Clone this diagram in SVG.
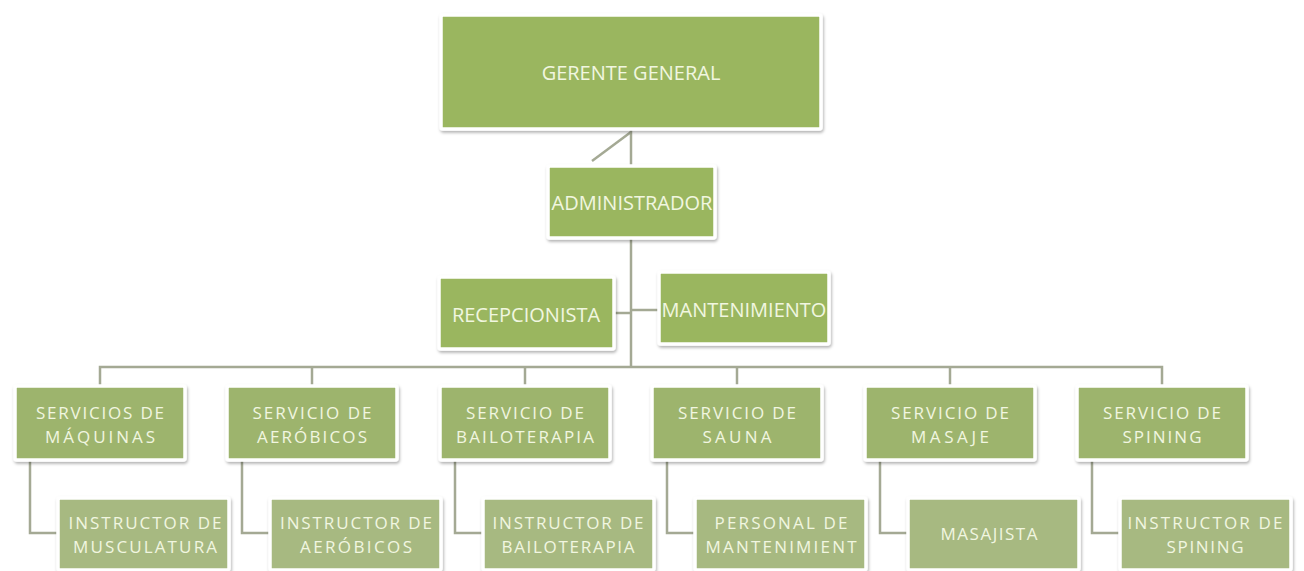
<svg xmlns="http://www.w3.org/2000/svg" width="1304" height="571" viewBox="0 0 1304 571">
  <defs>
    <filter id="sh" x="-10%" y="-10%" width="120%" height="130%">
      <feDropShadow dx="1" dy="2" stdDeviation="1.5" flood-color="#000" flood-opacity="0.3"/>
    </filter>
    <style>
      .box { stroke: #ffffff; stroke-width: 3.5; filter: url(#sh); }
      .l1 { fill: #9ab65e; }
      .l2 { fill: #9db46d; }
      .l3 { fill: #a7b981; }
      .t { font-family: "Open Sans", "Liberation Sans", sans-serif; font-size: 20px; fill: #f1f6e0; text-anchor: middle; }
      .s { font-size: 17px; }
      .c { fill: none; stroke: #a4a994; stroke-width: 2.5; }
    </style>
  </defs>
  <rect width="1304" height="571" fill="#ffffff"/>

  <g id="connectors">
    <line class="c" x1="631" y1="130" x2="631" y2="166"/>
    <line class="c" x1="631" y1="132" x2="592" y2="161"/>
    <line class="c" x1="631" y1="238" x2="631" y2="367"/>
    <line class="c" x1="614" y1="313" x2="631" y2="313"/>
    <line class="c" x1="631" y1="310" x2="659" y2="310"/>
    <path class="c" d="M100 386 V367 H1162 V386"/>
    <line class="c" x1="312" y1="367" x2="312" y2="386"/>
    <line class="c" x1="525" y1="367" x2="525" y2="386"/>
    <line class="c" x1="737" y1="367" x2="737" y2="386"/>
    <line class="c" x1="950" y1="367" x2="950" y2="386"/>
    <path class="c" d="M30 461 V533 H58"/>
    <path class="c" d="M242 461 V533 H270"/>
    <path class="c" d="M455 461 V533 H483"/>
    <path class="c" d="M667 461 V533 H695"/>
    <path class="c" d="M880 461 V533 H908"/>
    <path class="c" d="M1092 461 V533 H1120"/>
  </g>

  <g id="gerente">
    <rect class="box l1" x="441" y="15" width="380" height="114" rx="2"/>
    <text class="t" x="631" y="80">GERENTE GENERAL</text>
  </g>
  <g id="administrador">
    <rect class="box l1" x="548" y="166" width="167" height="72" rx="2"/>
    <text class="t" x="632" y="210">ADMINISTRADOR</text>
  </g>
  <g id="recepcionista">
    <rect class="box l1" x="439" y="277" width="175" height="72" rx="2"/>
    <text class="t" x="526" y="322">RECEPCIONISTA</text>
  </g>
  <g id="mantenimiento">
    <rect class="box l1" x="659" y="272" width="170" height="72" rx="2"/>
    <text class="t" x="744" y="317">MANTENIMIENTO</text>
  </g>

  <g id="serv-maquinas">
    <rect class="box l2" x="15" y="386" width="170" height="74" rx="2"/>
    <text class="t s" x="100" y="419" textLength="128">SERVICIOS DE</text>
    <text class="t s" x="100" y="443" textLength="110">MÁQUINAS</text>
  </g>
  <g id="serv-aerobicos">
    <rect class="box l2" x="227" y="386" width="170" height="74" rx="2"/>
    <text class="t s" x="312" y="419" textLength="119">SERVICIO DE</text>
    <text class="t s" x="312" y="443" textLength="110">AERÓBICOS</text>
  </g>
  <g id="serv-bailoterapia">
    <rect class="box l2" x="440" y="386" width="170" height="74" rx="2"/>
    <text class="t s" x="525" y="419" textLength="118">SERVICIO DE</text>
    <text class="t s" x="525" y="443" textLength="138">BAILOTERAPIA</text>
  </g>
  <g id="serv-sauna">
    <rect class="box l2" x="652" y="386" width="170" height="74" rx="2"/>
    <text class="t s" x="737" y="419" textLength="118">SERVICIO DE</text>
    <text class="t s" x="737" y="443" textLength="69">SAUNA</text>
  </g>
  <g id="serv-masaje">
    <rect class="box l2" x="865" y="386" width="170" height="74" rx="2"/>
    <text class="t s" x="950" y="419" textLength="118">SERVICIO DE</text>
    <text class="t s" x="950" y="443" textLength="78">MASAJE</text>
  </g>
  <g id="serv-spining">
    <rect class="box l2" x="1077" y="386" width="170" height="74" rx="2"/>
    <text class="t s" x="1162" y="419" textLength="118">SERVICIO DE</text>
    <text class="t s" x="1162" y="443" textLength="79">SPINING</text>
  </g>

  <g id="inst-musculatura">
    <rect class="box l3" x="58" y="498" width="171" height="72" rx="2"/>
    <text class="t s" x="145" y="529" textLength="153">INSTRUCTOR DE</text>
    <text class="t s" x="145" y="553" textLength="144">MUSCULATURA</text>
  </g>
  <g id="inst-aerobicos">
    <rect class="box l3" x="270" y="498" width="171" height="72" rx="2"/>
    <text class="t s" x="356" y="529" textLength="152">INSTRUCTOR DE</text>
    <text class="t s" x="356" y="553" textLength="112">AERÓBICOS</text>
  </g>
  <g id="inst-bailoterapia">
    <rect class="box l3" x="483" y="498" width="171" height="72" rx="2"/>
    <text class="t s" x="568" y="529" textLength="151">INSTRUCTOR DE</text>
    <text class="t s" x="568" y="553" textLength="133">BAILOTERAPIA</text>
  </g>
  <g id="personal-mantenimiento">
    <rect class="box l3" x="695" y="498" width="171" height="72" rx="2"/>
    <text class="t s" x="781" y="529" textLength="133">PERSONAL DE</text>
    <text class="t s" x="781" y="553" textLength="151">MANTENIMIENT</text>
  </g>
  <g id="masajista">
    <rect class="box l3" x="908" y="498" width="171" height="72" rx="2"/>
    <text class="t s" x="989" y="540" textLength="97">MASAJISTA</text>
  </g>
  <g id="inst-spining">
    <rect class="box l3" x="1120" y="498" width="171" height="72" rx="2"/>
    <text class="t s" x="1205" y="529" textLength="155">INSTRUCTOR DE</text>
    <text class="t s" x="1205" y="553" textLength="77">SPINING</text>
  </g>
</svg>
